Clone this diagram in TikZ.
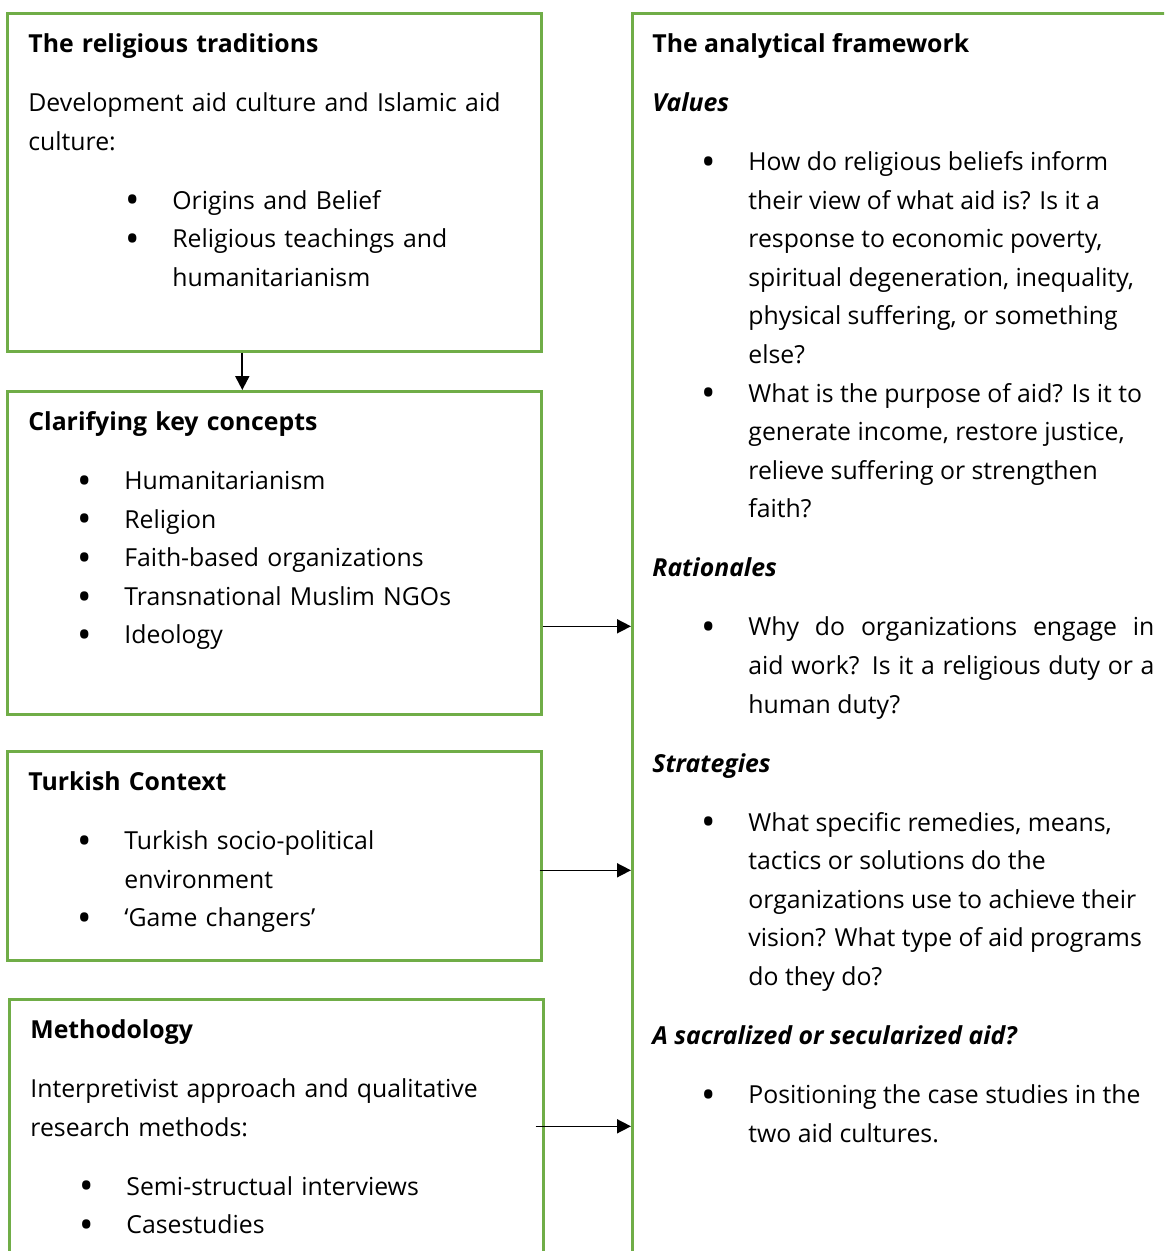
\documentclass[tikz,border=0pt]{standalone}
\usepackage{fontspec}
\setmainfont{Open Sans}
\usetikzlibrary{positioning,arrows.meta}
\definecolor{box-green}{HTML}{70AD47}
\newcommand{\itembul}{\leavevmode\llap{\makebox[23pt][l]{\hspace*{-0.5pt}\raisebox{-2.4pt}{\scalebox{1.55}{\textbullet}}}}}

\begin{document}
\begin{tikzpicture}[x=0.5pt,y=-0.5pt]
    \tikzstyle{greenbox} = [rectangle, draw=box-green, line width=1.3pt, anchor=north west, inner sep=0pt, minimum width=267pt]
    \tikzstyle{boxtext} = [anchor=north west, inner sep=0pt, text width=245pt, align=left, font=\fontsize{12.4}{19.3}\selectfont\setlength{\parindent}{0pt}\setlength{\parskip}{10.2pt}, execute at begin node=\strut]
    \tikzstyle{arrowline} = [-{Triangle[length=7pt,width=7pt]}, line width=0.8pt]
        \useasboundingbox (0,0) rectangle (1164,1251);
        \clip (0,0) rectangle (1164,1251);
        % left column
        \node (traditions) [greenbox, minimum height=169pt] at (6,12) {};
        \node (concepts) [greenbox, minimum height=161.5pt] at (6,390) {};
        \node (context) [greenbox, minimum height=104.5pt] at (6,750) {};
        \node (method) [greenbox, minimum height=145pt] at (8,998) {};
        % right column
        \node (framework) [greenbox, minimum width=280pt, minimum height=640pt] at (631,12) {};

        \node (traditions-text) [boxtext, below right=6.5pt and 11pt of traditions.north west] {\textbf{The religious traditions}\par
            Development aid culture and Islamic aid\\culture:\par
            {\leftskip=72pt\itembul Origins and Belief\\\itembul Religious teachings and\\humanitarianism\par}};
        \node (concepts-text) [boxtext, below right=6.5pt and 11pt of concepts.north west] {\textbf{Clarifying key concepts}\par
            {\leftskip=48pt\itembul Humanitarianism\\\itembul Religion\\\itembul Faith-based organizations\\\itembul Transnational Muslim NGOs\\\itembul Ideology\par}};
        \node (context-text) [boxtext, below right=6.5pt and 11pt of context.north west] {\textbf{Turkish Context}\par
            {\leftskip=48pt\itembul Turkish socio-political\\environment\\\itembul ‘Game changers’\par}};
        \node (method-text) [boxtext, below right=6.5pt and 11pt of method.north west] {\textbf{Methodology}\par
            Interpretivist approach and qualitative\\research methods:\par
            {\leftskip=48pt\itembul Semi-structual interviews\\\itembul Casestudies\par}};
        \node (framework-text) [boxtext, text width=251pt, align=justify, below right=6.5pt and 10.5pt of framework.north west] {\textbf{The analytical framework}\par
            \textbf{\textit{Values}}\par
            {\leftskip=48pt\itembul How do religious beliefs inform\\their view of what aid is? Is it a\\response to economic poverty,\\spiritual degeneration, inequality,\\physical suffering, or something\\else?\\\itembul What is the purpose of aid? Is it to\\generate income, restore justice,\\relieve suffering or strengthen\\faith?\par}
            \textbf{\textit{Rationales}}\par
            {\leftskip=48pt\itembul Why do organizations engage in\linebreak aid work? Is it a religious duty or a\linebreak human duty?\par}
            \textbf{\textit{Strategies}}\par
            {\leftskip=48pt\itembul What specific remedies, means,\\tactics or solutions do the\\organizations use to achieve their\\vision? What type of aid programs\\do they do?\par}
            \textbf{\textit{A sacralized or secularized aid?}}\par
            {\leftskip=48pt\itembul Positioning the case studies in the\\two aid cultures.\par}};

        % connectors
        \draw[arrowline, line width=1pt] ([xshift=-16pt]traditions.south) -- ([xshift=-16pt]concepts.north);
        \draw[arrowline] ([yshift=-36.75pt]concepts.east) -- ([yshift=-36.75pt]concepts.east -| framework.west);
        \draw[arrowline] ([xshift=-1.5pt,yshift=-7.25pt]context.east) -- ([yshift=-7.25pt]context.east -| framework.west);
        \draw[arrowline] ([xshift=-4.5pt,yshift=9pt]method.east) -- ([yshift=9pt]method.east -| framework.west);
\end{tikzpicture}
\end{document}
